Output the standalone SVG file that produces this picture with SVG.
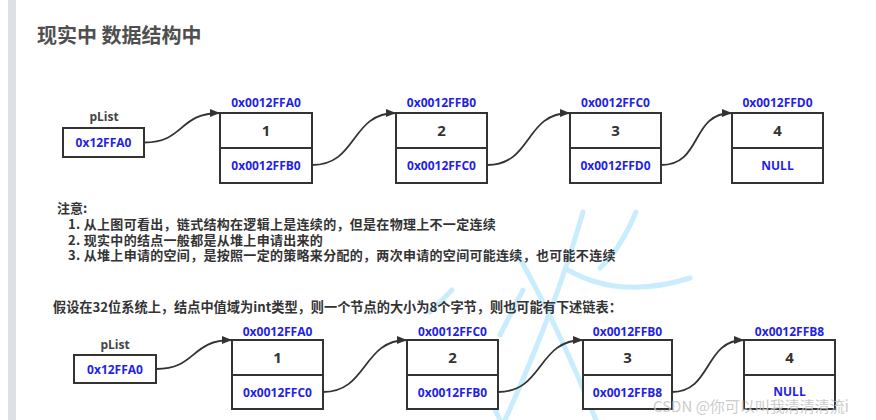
<svg xmlns="http://www.w3.org/2000/svg" width="876" height="420" viewBox="0 0 876 420">
<defs>
<marker id="arr" viewBox="0 0 10 8" refX="10" refY="4" markerWidth="10" markerHeight="8" markerUnits="userSpaceOnUse" orient="auto">
<path d="M0,0 L10,4 L0,8 z" fill="#333"/>
</marker>
<style>
.box{fill:#fff;stroke:#333;stroke-width:2}
.div{stroke:#333;stroke-width:2}
.addr{font-family:"Open Sans","Noto Sans CJK SC",sans-serif;font-weight:bold;font-size:12px;fill:#1f1fe6;text-anchor:middle}
.val{font-family:"Open Sans","Noto Sans CJK SC",sans-serif;font-weight:bold;font-size:15px;fill:#333;text-anchor:middle}
.lbl{font-family:"Open Sans","Noto Sans CJK SC",sans-serif;font-weight:bold;font-size:12px;fill:#444;text-anchor:middle}
.cn{font-family:"Noto Sans CJK SC",sans-serif;font-weight:bold;fill:#333}
.note{font-size:13px;letter-spacing:0.3px}
.link{fill:none;stroke:#333;stroke-width:1.8;marker-end:url(#arr)}
.wm{fill:none;stroke:#c9edfc;stroke-width:5;stroke-linecap:round}
</style>
</defs>
<rect width="876" height="420" fill="#fff"/>
<rect x="8" y="0" width="8" height="420" fill="#dde1e6"/>
<g id="watermark">
<path class="wm" d="M583,212 Q555,310 505,420"/>
<path class="wm" d="M518,255 Q560,330 596,420"/>
<path class="wm" d="M636,212 Q620,250 600,268"/>
<path class="wm" d="M568,270 Q620,300 690,278"/>
<path class="wm" d="M523,290 L500,335"/>
<path class="wm" d="M452,290 L430,312"/>
<path class="wm" d="M467,350 L413,405"/>
<path class="wm" d="M470,357 L500,420"/>
</g>
<text x="37" y="43" font-family="Noto Sans CJK SC,sans-serif" font-weight="bold" font-size="20" fill="#4f4f4f">现实中 数据结构中</text>
<g id="notes">
<text class="cn" x="57" y="213" font-size="13">注意:</text>
<text class="cn note" x="68" y="229">1. 从上图可看出，链式结构在逻辑上是连续的，但是在物理上不一定连续</text>
<text class="cn note" x="68" y="244.5">2. 现实中的结点一般都是从堆上申请出来的</text>
<text class="cn note" x="68" y="260">3. 从堆上申请的空间，是按照一定的策略来分配的，两次申请的空间可能连续，也可能不连续</text>
<text class="cn" x="53" y="312" font-size="13.2">假设在32位系统上，结点中值域为int类型，则一个节点的大小为8个字节，则也可能有下述链表：</text>
</g>
<g id="connectors">
<path class="link" d="M144,142.5 C185,142.5 178,113 220,113"/>
<path class="link" d="M312,165 C358,165 350,113 396,113"/>
<path class="link" d="M487,165 C533,165 524,113 570,113"/>
<path class="link" d="M661,165 C703,165 690,113 732,113"/>
<path class="link" d="M156,369 C197,369 190,340 232,340"/>
<path class="link" d="M323,392 C368,392 362,340 407,340"/>
<path class="link" d="M498,392 C544,392 537,340 583,340"/>
<path class="link" d="M672,392 C712,392 704,340 744,340"/>
</g>
<g id="plist1">
<text class="lbl" x="104" y="121">pList</text>
<rect class="box" x="63" y="128" width="81" height="29"/>
<text class="addr" x="103.5" y="147">0x12FFA0</text>
</g>
<g id="n1a">
<text class="addr" x="266" y="107">0x0012FFA0</text>
<rect class="box" x="220" y="113" width="92" height="70"/>
<line class="div" x1="220" y1="148" x2="312" y2="148"/>
<text class="val" x="266" y="136">1</text>
<text class="addr" x="266" y="170">0x0012FFB0</text>
</g>
<g id="n2a">
<text class="addr" x="441.5" y="107">0x0012FFB0</text>
<rect class="box" x="396" y="113" width="91" height="70"/>
<line class="div" x1="396" y1="148" x2="487" y2="148"/>
<text class="val" x="441.5" y="136">2</text>
<text class="addr" x="441.5" y="170">0x0012FFC0</text>
</g>
<g id="n3a">
<text class="addr" x="615.5" y="107">0x0012FFC0</text>
<rect class="box" x="570" y="113" width="91" height="70"/>
<line class="div" x1="570" y1="148" x2="661" y2="148"/>
<text class="val" x="615.5" y="136">3</text>
<text class="addr" x="615.5" y="170">0x0012FFD0</text>
</g>
<g id="n4a">
<text class="addr" x="777.5" y="107">0x0012FFD0</text>
<rect class="box" x="732" y="113" width="91" height="70"/>
<line class="div" x1="732" y1="148" x2="823" y2="148"/>
<text class="val" x="777.5" y="136">4</text>
<text class="addr" x="777.5" y="170">NULL</text>
</g>
<g id="plist2">
<text class="lbl" x="115" y="349">pList</text>
<rect class="box" x="74" y="355" width="82" height="28"/>
<text class="addr" x="115" y="374">0x12FFA0</text>
</g>
<g id="n1b">
<text class="addr" x="277.5" y="336">0x0012FFA0</text>
<rect class="box" x="232" y="340" width="91" height="69"/>
<line class="div" x1="232" y1="375" x2="323" y2="375"/>
<text class="val" x="277.5" y="363">1</text>
<text class="addr" x="277.5" y="397">0x0012FFC0</text>
</g>
<g id="n2b">
<text class="addr" x="452.5" y="336">0x0012FFC0</text>
<rect class="box" x="407" y="340" width="91" height="69"/>
<line class="div" x1="407" y1="375" x2="498" y2="375"/>
<text class="val" x="452.5" y="363">2</text>
<text class="addr" x="452.5" y="397">0x0012FFB0</text>
</g>
<g id="n3b">
<text class="addr" x="627.5" y="336">0x0012FFB0</text>
<rect class="box" x="583" y="340" width="89" height="69"/>
<line class="div" x1="583" y1="375" x2="672" y2="375"/>
<text class="val" x="627.5" y="363">3</text>
<text class="addr" x="627.5" y="397">0x0012FFB8</text>
</g>
<g id="n4b">
<text class="addr" x="789.5" y="336">0x0012FFB8</text>
<rect class="box" x="744" y="340" width="91" height="69"/>
<line class="div" x1="744" y1="375" x2="835" y2="375"/>
<text class="val" x="789.5" y="363">4</text>
<text class="addr" x="789.5" y="396">NULL</text>
</g>
<text x="653" y="412" font-family="Noto Sans CJK SC,sans-serif" font-size="15" fill="#c4c4c4" opacity="0.85">CSDN @你可以叫我清清清流i</text>
</svg>
